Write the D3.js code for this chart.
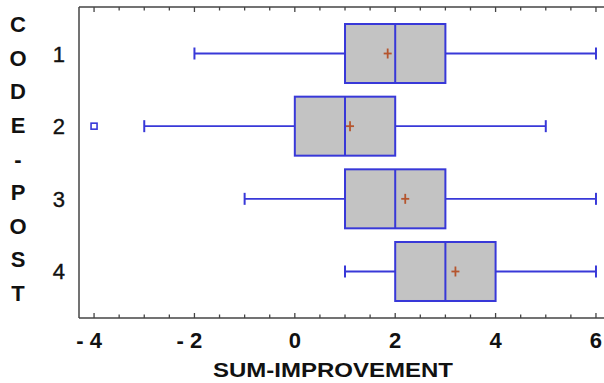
<!DOCTYPE html>
<html>
<head>
<meta charset="utf-8">
<script src="https://cdn.jsdelivr.net/npm/d3@7"></script>
<style>
  body { margin: 0; background: #fff; }
  svg { display: block; }
</style>
</head>
<body>
<svg id="chart" width="604" height="383"></svg>
<script>
// box plot data
const groups = ["1", "2", "3", "4"];
const whiskerLow = [-2, -3, -1, 1];
const q1 = [1, 0, 1, 2];
const median = [2, 1, 2, 3];
const q3 = [3, 2, 3, 4];
const whiskerHigh = [6, 5, 6, 6];
const means = [1.85, 1.1, 2.2, 3.2];
const outliers = [{ group: "2", value: -4 }];
const xTicks = [-4, -2, 0, 2, 4, 6];
const yTitle = "CODE-POST";
const xTitle = "SUM-IMPROVEMENT";

const boxBlue = "#3838d8";
const boxFill = "#c3c3c3";
const meanColor = "#b5552e";
const frameColor = "#444";
const font = "Liberation Sans, Arial, sans-serif";

const svg = d3.select("svg#chart");

let margin = { top: 7, right: 0, bottom: 65, left: 79 };
let plotWidth = 604 - margin.left - margin.right;
let plotHeight = 383 - margin.top - margin.bottom;

let x = d3.scaleLinear()
    .domain([-4.3, 6.16])
    .range([0, plotWidth]);

let y = d3.scalePoint()
    .domain(groups)
    .range([0, plotHeight])
    .padding(0.64);

let plot = svg.append("g")
    .attr("transform", "translate(" + margin.left + "," + margin.top + ")");

// frame: left, top, bottom (right side is cut off)
plot.append("line")
    .attr("x1", 0).attr("x2", 0).attr("y1", 0).attr("y2", plotHeight)
    .attr("stroke", frameColor).attr("stroke-width", 1.5);
plot.append("line")
    .attr("x1", 0).attr("x2", plotWidth + 5).attr("y1", 0).attr("y2", 0)
    .attr("stroke", frameColor).attr("stroke-width", 1.5);
plot.append("line")
    .attr("x1", 0).attr("x2", plotWidth + 5).attr("y1", plotHeight).attr("y2", plotHeight)
    .attr("stroke", frameColor).attr("stroke-width", 1.5);

// inward ticks every 0.5
let minor = d3.range(-4, 6.01, 0.5);
minor.forEach(function(v) {
    let len = Number.isInteger(v / 2) ? 5 : 3.5;
    plot.append("line")
        .attr("x1", x(v)).attr("x2", x(v))
        .attr("y1", plotHeight).attr("y2", plotHeight - len)
        .attr("stroke", frameColor).attr("stroke-width", 1.3);
    plot.append("line")
        .attr("x1", x(v)).attr("x2", x(v))
        .attr("y1", 0).attr("y2", len)
        .attr("stroke", frameColor).attr("stroke-width", 1.3);
});

// x tick labels
plot.selectAll("text.xtick")
    .data(xTicks)
    .enter()
    .append("text")
    .attr("class", "xtick")
    .attr("x", d => x(d) + (d < 0 ? -5 : 0))
    .attr("y", plotHeight + 30)
    .attr("text-anchor", "middle")
    .style("font-family", font)
    .style("font-size", "22px")
    .style("font-weight", "bold")
    .attr("fill", "#111")
    .text(d => d < 0 ? "- " + Math.abs(d) : d);

// y tick labels
plot.selectAll("text.ytick")
    .data(groups)
    .enter()
    .append("text")
    .attr("class", "ytick")
    .attr("x", -14)
    .attr("y", d => y(d) + 8)
    .attr("text-anchor", "end")
    .style("font-family", font)
    .style("font-size", "22px")
    .attr("fill", "#111")
    .attr("stroke", "#111")
    .attr("stroke-width", 0.4)
    .text(d => d);

// boxes
let boxH = 59;
let capH = 12;
groups.forEach(function(g, i) {
    let cy = y(g);
    let row = plot.append("g");

    row.append("line")
        .attr("x1", x(whiskerLow[i])).attr("x2", x(q1[i]))
        .attr("y1", cy).attr("y2", cy)
        .attr("stroke", boxBlue).attr("stroke-width", 1.8);
    row.append("line")
        .attr("x1", x(q3[i])).attr("x2", x(whiskerHigh[i]))
        .attr("y1", cy).attr("y2", cy)
        .attr("stroke", boxBlue).attr("stroke-width", 1.8);
    [whiskerLow[i], whiskerHigh[i]].forEach(function(v) {
        row.append("line")
            .attr("x1", x(v)).attr("x2", x(v))
            .attr("y1", cy - capH / 2).attr("y2", cy + capH / 2)
            .attr("stroke", boxBlue).attr("stroke-width", 2);
    });

    row.append("rect")
        .attr("x", x(q1[i]))
        .attr("y", cy - boxH / 2)
        .attr("width", x(q3[i]) - x(q1[i]))
        .attr("height", boxH)
        .attr("fill", boxFill)
        .attr("stroke", boxBlue)
        .attr("stroke-width", 2);

    row.append("line")
        .attr("x1", x(median[i])).attr("x2", x(median[i]))
        .attr("y1", cy - boxH / 2).attr("y2", cy + boxH / 2)
        .attr("stroke", boxBlue).attr("stroke-width", 2);

    // mean marker
    let mx = x(means[i]);
    row.append("line")
        .attr("x1", mx - 4).attr("x2", mx + 4).attr("y1", cy).attr("y2", cy)
        .attr("stroke", meanColor).attr("stroke-width", 1.8);
    row.append("line")
        .attr("x1", mx).attr("x2", mx).attr("y1", cy - 5).attr("y2", cy + 5)
        .attr("stroke", meanColor).attr("stroke-width", 1.8);
});

// outliers
plot.selectAll("rect.outlier")
    .data(outliers)
    .enter()
    .append("rect")
    .attr("class", "outlier")
    .attr("x", d => x(d.value) - 3)
    .attr("y", d => y(d.group) - 3)
    .attr("width", 6)
    .attr("height", 6)
    .attr("fill", "none")
    .attr("stroke", boxBlue)
    .attr("stroke-width", 1.6);

// x axis title
svg.append("text")
    .attr("x", 333)
    .attr("y", 377)
    .attr("text-anchor", "middle")
    .style("font-family", font)
    .style("font-size", "21px")
    .style("font-weight", "bold")
    .attr("fill", "#111")
    .attr("textLength", 240)
    .attr("lengthAdjust", "spacingAndGlyphs")
    .text(xTitle);

// y axis title, stacked letters
let letters = yTitle.split("");
let letterY = d3.scalePoint()
    .domain(d3.range(letters.length))
    .range([24, 293]);
svg.selectAll("text.ytitle")
    .data(letters)
    .enter()
    .append("text")
    .attr("class", "ytitle")
    .attr("x", 18)
    .attr("y", (d, i) => letterY(i) + 8)
    .attr("text-anchor", "middle")
    .style("font-family", font)
    .style("font-size", "22px")
    .style("font-weight", "bold")
    .attr("fill", "#111")
    .text(d => d);
</script>
</body>
</html>
